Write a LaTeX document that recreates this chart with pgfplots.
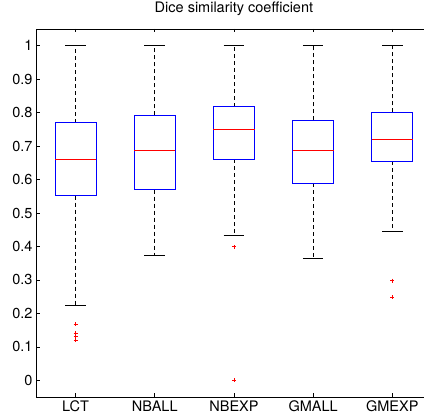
\documentclass[border=0pt]{standalone}
\usepackage{fontspec}
\setmainfont{TeX Gyre Heros}
\usepackage{pgfplots}
\pgfplotsset{compat=1.18}
\usepgfplotslibrary{statistics}

\pgfplotsset{
  /pgfplots/boxplot/draw/whisker/.code 2 args={%
    \draw[black, line width=0.8pt, dash pattern=on 4pt off 3pt]
      (boxplot box cs:#1,0.5) -- (boxplot box cs:#2,0.5);
    \draw[black, line width=0.8pt]
      (boxplot whisker cs:#2,0) -- (boxplot whisker cs:#2,1);
  },
  /pgfplots/boxplot/draw/lower whisker/.code={%
    \pgfplotsset{/pgfplots/boxplot/draw/whisker=
      {\pgfplotsboxplotvalue{lower quartile}}{\pgfplotsboxplotvalue{lower whisker}}}%
  },
  /pgfplots/boxplot/draw/upper whisker/.code={%
    \pgfplotsset{/pgfplots/boxplot/draw/whisker=
      {\pgfplotsboxplotvalue{upper quartile}}{\pgfplotsboxplotvalue{upper whisker}}}%
  },
  /pgfplots/boxplot/draw/box/.code={%
    \draw[blue, line width=0.9pt]
      (boxplot box cs:\pgfplotsboxplotvalue{lower quartile},0) rectangle
      (boxplot box cs:\pgfplotsboxplotvalue{upper quartile},1);
  },
  /pgfplots/boxplot/draw/median/.code={%
    \draw[red, line width=0.9pt]
      (boxplot box cs:\pgfplotsboxplotvalue{median},0) --
      (boxplot box cs:\pgfplotsboxplotvalue{median},1);
  },
  mybox/.style={
    solid,
    mark=+, mark size=2pt,
    mark options={red, solid, line width=0.6pt},
    boxplot/draw direction=y,
    boxplot/box extend=0.52,
    boxplot/whisker extend=0.26,
  },
}

\begin{document}
\begin{tikzpicture}[font=\fontsize{14.5}{17}\selectfont]
\begin{axis}[
    scale only axis,
    width=388pt, height=368pt,
    xmin=0.5, xmax=5.4,
    ymin=-0.05, ymax=1.05,
    axis x line*=box,
    axis y line*=left,
    axis line style={line width=0.8pt},
    tick style={black, line width=0.6pt},
    major tick length=3.5pt,
    tick align=inside,
    xtick={1,2,3,4,5},
    xticklabels={LCT,NBALL,NBEXP,GMALL,GMEXP},
    xtick pos=both,
    ytick={0,0.1,...,1},
    ytick pos=left,
    yticklabel style={/pgf/number format/fixed, /pgf/number format/precision=1},
    /pgf/number format/assume math mode=true,
    every tick label/.append style={font=\fontsize{14.5}{17}\selectfont},
    xticklabel style={anchor=base, yshift=-15pt},
    title={Dice similarity coefficient},
    title style={at={(0.5102,1)}, anchor=base, yshift=10pt, font=\fontsize{14.5}{17}\selectfont},
]
% LCT
\addplot+[mybox, boxplot prepared={draw position=1,
    lower whisker=0.224, lower quartile=0.552, median=0.661,
    upper quartile=0.770, upper whisker=1.0}]
  table[row sep=\\, y index=0] {0.168\\0.140\\0.130\\0.120\\};
% NBALL
\addplot+[mybox, boxplot prepared={draw position=2,
    lower whisker=0.373, lower quartile=0.570, median=0.686,
    upper quartile=0.792, upper whisker=1.0}]
  coordinates {};
% NBEXP
\addplot+[mybox, boxplot prepared={draw position=3,
    lower whisker=0.432, lower quartile=0.661, median=0.749,
    upper quartile=0.818, upper whisker=1.0}]
  table[row sep=\\, y index=0] {0.399\\0.0\\};
% GMALL
\addplot+[mybox, boxplot prepared={draw position=4,
    lower whisker=0.363, lower quartile=0.589, median=0.688,
    upper quartile=0.777, upper whisker=1.0}]
  coordinates {};
% GMEXP
\addplot+[mybox, boxplot prepared={draw position=5,
    lower whisker=0.445, lower quartile=0.655, median=0.721,
    upper quartile=0.801, upper whisker=1.0}]
  table[row sep=\\, y index=0] {0.298\\0.248\\};
\end{axis}
\pgfresetboundingbox
\path[use as bounding box] (-36pt,-21pt) rectangle (388pt,397pt);
\end{tikzpicture}
\end{document}
